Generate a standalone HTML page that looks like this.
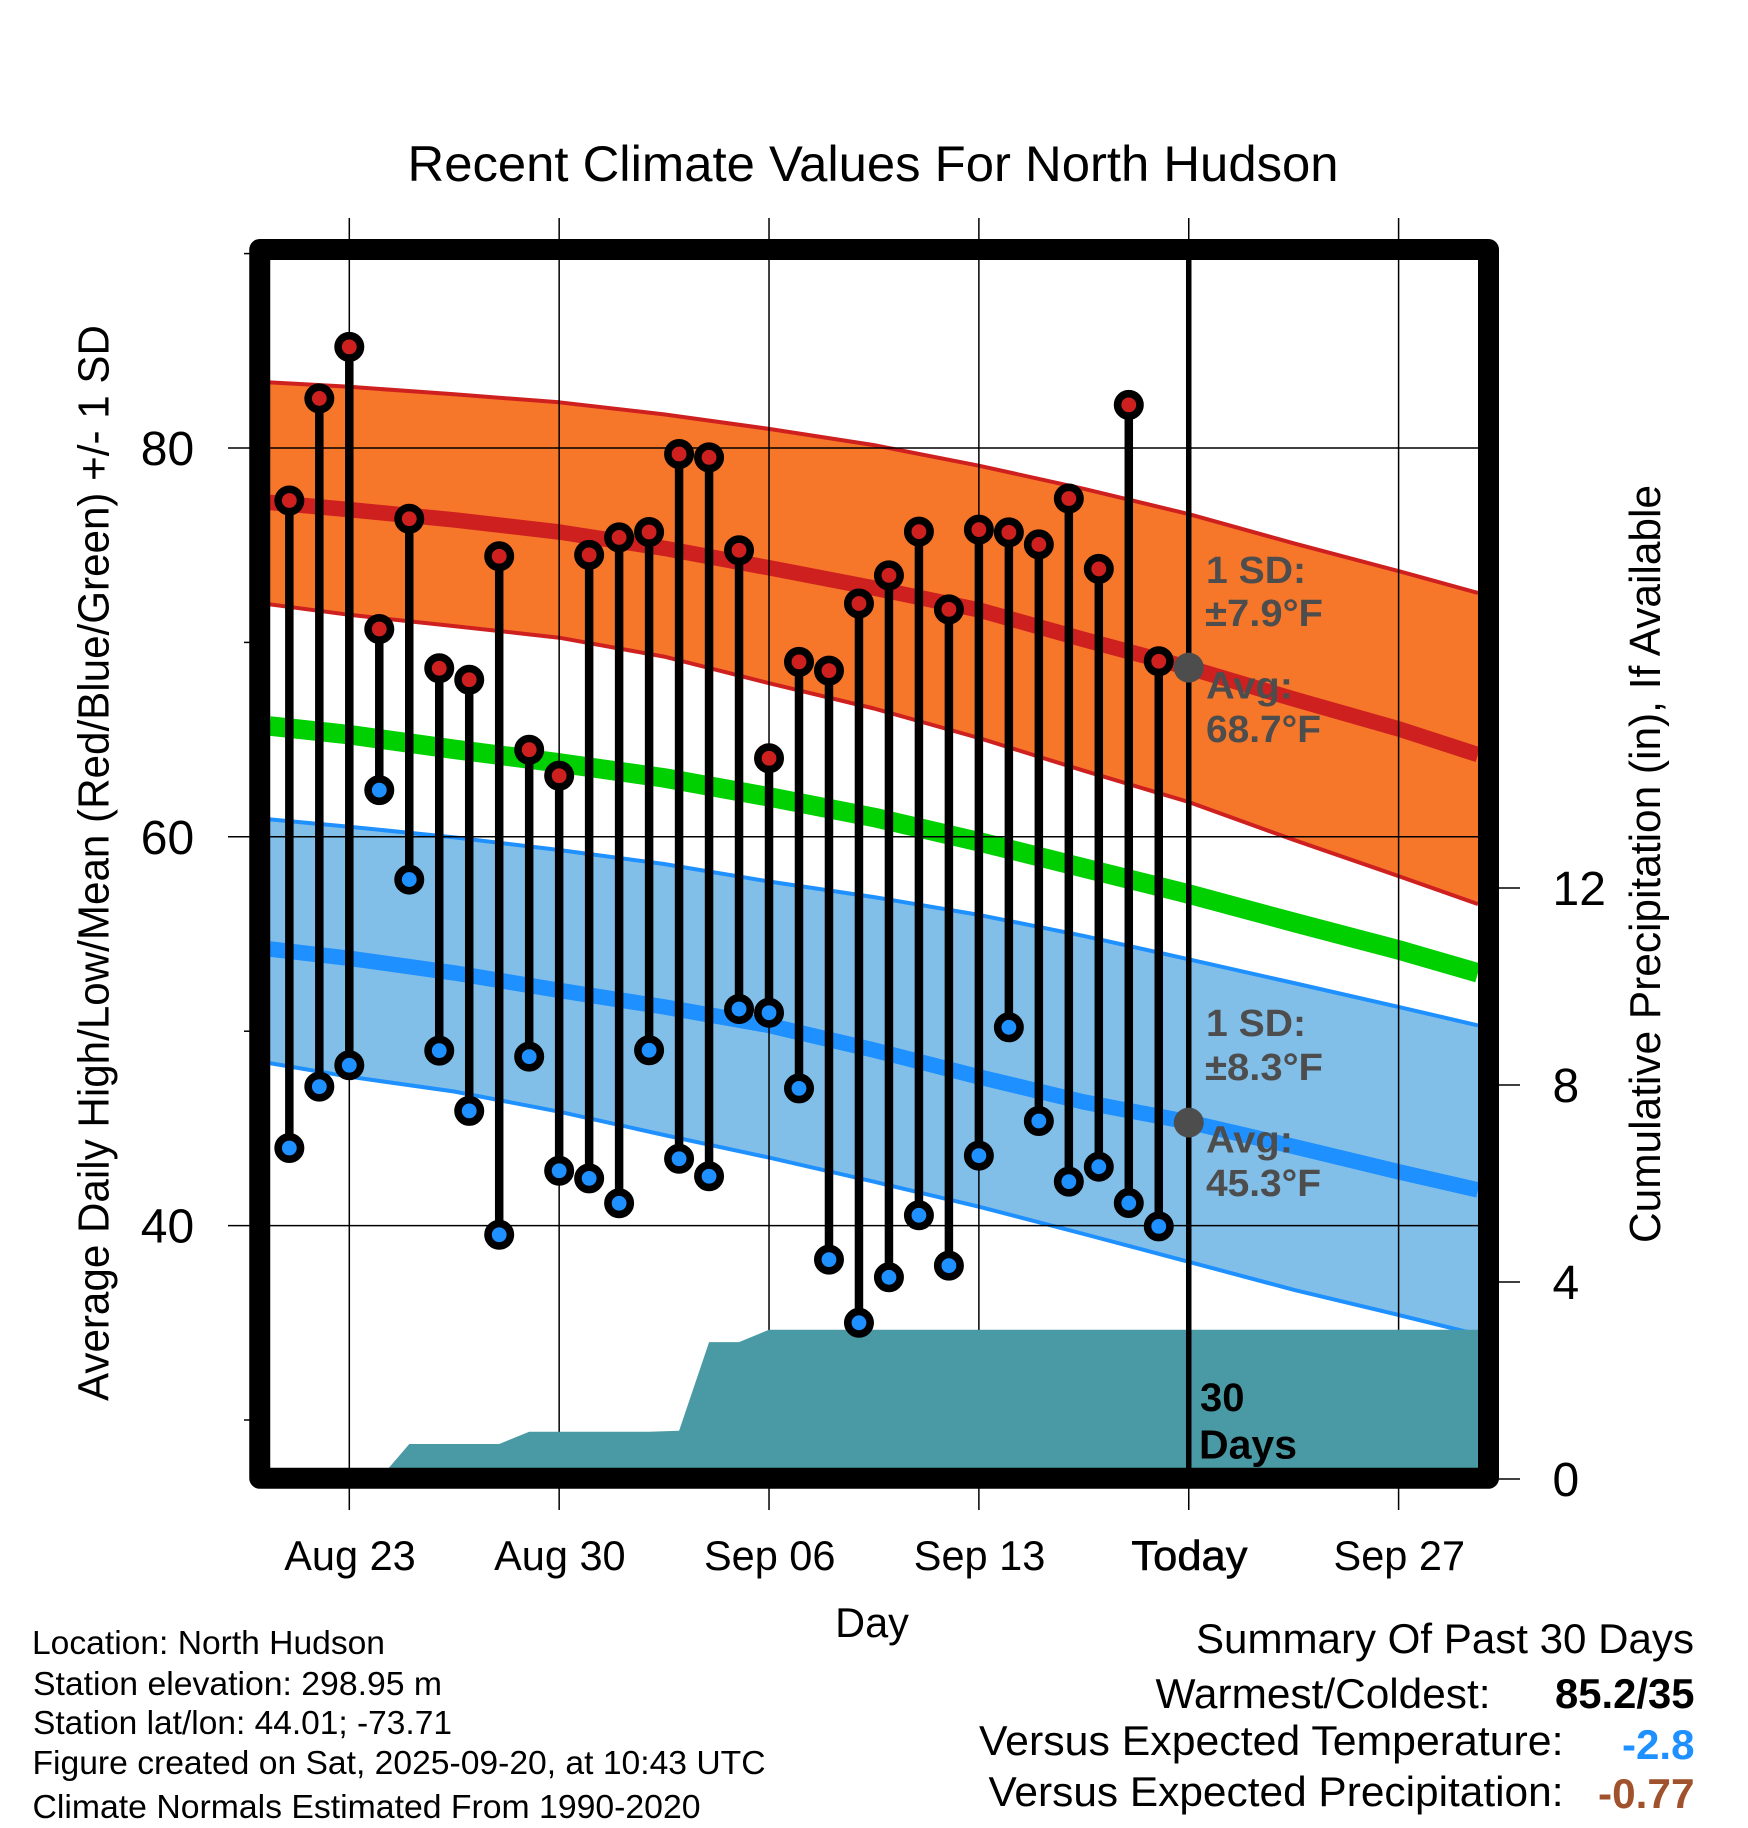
<!DOCTYPE html>
<html lang="en">
<head>
<meta charset="utf-8">
<title>Recent Climate Values For North Hudson</title>
<style>
  html, body { margin: 0; padding: 0; background: #fff; }
  svg { display: block; }
  text { font-family: "Liberation Sans", Arial, sans-serif; fill: #000; }
  .note { font-size: 33.4px; }
  .summary { font-size: 41.5px; }
  .anno { font-size: 38px; font-weight: bold; fill: #4d4d4d; }
</style>
</head>
<body>
<svg id="chart" xmlns="http://www.w3.org/2000/svg" width="1748" height="1828" viewBox="0 0 1748 1828">
  <rect x="0" y="0" width="1748" height="1828" fill="#fff"/>
  <defs>
    <clipPath id="plot-clip"><rect x="270" y="260" width="1208" height="1208"/></clipPath>
  </defs>
  <g id="plot" clip-path="url(#plot-clip)"></g>
  <g id="overlay"></g>
  <g id="axes"></g>

  <text x="873" y="181" font-size="50" text-anchor="middle" textLength="931" lengthAdjust="spacingAndGlyphs">Recent Climate Values For North Hudson</text>
  <text transform="translate(108.5,863) rotate(-90)" font-size="44" text-anchor="middle" textLength="1076" lengthAdjust="spacingAndGlyphs">Average Daily High/Low/Mean (Red/Blue/Green) +/- 1 SD</text>
  <text transform="translate(1660,864) rotate(-90)" font-size="44" text-anchor="middle" textLength="758" lengthAdjust="spacingAndGlyphs">Cumulative Precipitation (in), If Available</text>
  <text x="872" y="1637" font-size="41.5" text-anchor="middle">Day</text>

  <text class="anno" x="1206" y="583" textLength="100" lengthAdjust="spacingAndGlyphs">1 SD:</text>
  <text class="anno" x="1205" y="626" textLength="118" lengthAdjust="spacingAndGlyphs">±7.9°F</text>
  <text class="anno" x="1206" y="698.5" textLength="87" lengthAdjust="spacingAndGlyphs">Avg:</text>
  <text class="anno" x="1206" y="742" textLength="115" lengthAdjust="spacingAndGlyphs">68.7°F</text>
  <text class="anno" x="1206" y="1036" textLength="100" lengthAdjust="spacingAndGlyphs">1 SD:</text>
  <text class="anno" x="1205" y="1080" textLength="118" lengthAdjust="spacingAndGlyphs">±8.3°F</text>
  <text class="anno" x="1206" y="1152.5" textLength="87" lengthAdjust="spacingAndGlyphs">Avg:</text>
  <text class="anno" x="1206" y="1196" textLength="115" lengthAdjust="spacingAndGlyphs">45.3°F</text>
  <text x="1200" y="1411" font-size="40" font-weight="bold">30</text>
  <text x="1199" y="1458.5" font-size="41" font-weight="bold">Days</text>

  <g>
    <text class="note" x="32" y="1654" textLength="353" lengthAdjust="spacingAndGlyphs">Location: North Hudson</text>
    <text class="note" x="33" y="1695" textLength="409" lengthAdjust="spacingAndGlyphs">Station elevation: 298.95 m</text>
    <text class="note" x="33" y="1734" textLength="419" lengthAdjust="spacingAndGlyphs">Station lat/lon: 44.01; -73.71</text>
    <text class="note" x="32.5" y="1774" textLength="733" lengthAdjust="spacingAndGlyphs">Figure created on Sat, 2025-09-20, at 10:43 UTC</text>
    <text class="note" x="32.5" y="1818" textLength="668" lengthAdjust="spacingAndGlyphs">Climate Normals Estimated From 1990-2020</text>
  </g>

  <g>
    <text class="summary" x="1196" y="1653" textLength="498" lengthAdjust="spacingAndGlyphs">Summary Of Past 30 Days</text>
    <text class="summary" x="1155.5" y="1708" textLength="335" lengthAdjust="spacingAndGlyphs">Warmest/Coldest:</text>
    <text class="summary" x="1555" y="1708" font-weight="bold" textLength="139.5" lengthAdjust="spacingAndGlyphs">85.2/35</text>
    <text class="summary" x="979" y="1755" textLength="584.5" lengthAdjust="spacingAndGlyphs">Versus Expected Temperature:</text>
    <text class="summary" x="1622" y="1759" font-weight="bold" style="fill:#1e90ff" textLength="72.5" lengthAdjust="spacingAndGlyphs">-2.8</text>
    <text class="summary" x="988.5" y="1806" textLength="575" lengthAdjust="spacingAndGlyphs">Versus Expected Precipitation:</text>
    <text class="summary" x="1598" y="1808" font-weight="bold" style="fill:#a0522d" textLength="96.5" lengthAdjust="spacingAndGlyphs">-0.77</text>
  </g>
</svg>

<script>
// ---- Observations: Aug 21 to Sep 19 (one value per day) ----
const observedDayOffsets = [-2,-1,0,1,2,3,4,5,6,7,8,9,10,11,12,13,14,15,16,17,18,19,20,21,22,23,24,25,26,27];
const dailyHighs = [77.3,82.55,85.2,70.69,76.36,68.67,68.08,74.43,64.48,63.14,74.5,75.4,75.68,79.69,79.52,74.74,64.04,69.0,68.55,72.0,73.45,75.7,71.7,75.8,75.66,75.04,77.4,73.78,82.22,69.03];
const dailyLows = [43.99,47.15,48.25,62.4,57.8,49.0,45.9,39.53,48.69,42.82,42.43,41.15,49.02,43.44,42.54,51.14,50.95,47.06,38.25,35.0,37.34,40.53,37.94,43.6,50.2,45.38,42.26,43.03,41.16,39.96];
const dailyPrecip = [0,0,0,0,0.71,0.71,0.71,0.71,0.96,0.96,0.96,0.96,0.96,0.98,2.78,2.78,3.03,3.03,3.03,3.03,3.03,3.03,3.03,3.03,3.03,3.03,3.03,3.03,3.03,3.03];

// ---- Climate normals, days counted from Aug 23 ----
const normalDayOffsets = [-2.66,0,3.5,7,10.5,14,17.5,21,24.5,28,31.5,35,37.65];
const highPlusSd = [83.38,83.15,82.76,82.35,81.73,80.98,80.15,79.09,77.9,76.6,75.1,73.67,72.54];
const highMean = [77.2,76.83,76.3,75.68,74.84,73.84,72.8,71.67,70.15,68.7,67.09,65.55,64.23];
const highMinusSd = [71.96,71.42,70.84,70.24,69.27,67.9,66.6,65.08,63.4,61.79,59.84,57.98,56.54];
const overallMean = [65.7,65.25,64.5,63.8,63.03,62.05,61.0,59.75,58.4,57.06,55.6,54.18,53.0];
const lowPlusSd = [60.9,60.52,59.97,59.32,58.6,57.7,56.9,55.98,54.9,53.7,52.48,51.25,50.3];
const lowMean = [54.23,53.75,53.0,52.1,51.25,50.3,49.03,47.65,46.36,45.33,44.07,42.77,41.83];
const lowMinusSd = [48.36,47.66,46.9,45.86,44.66,43.5,42.26,40.97,39.57,38.14,36.7,35.4,34.4];

// ---- Axis ticks ----
const xTickDays = [0,7,14,21,28,35];
const xTickLabels = ['Aug 23','Aug 30','Sep 06','Sep 13','Today','Sep 27'];
const tempMajorTicks = [80,60,40];
const tempMinorTicks = [90,70,50,30];
const precipTicks = [0,4,8,12];
const todayOffset = 28;
const todayHigh = 68.7;
const todayLow = 45.3;
const precipEndOffset = 37.65;

// ---- Axis functions ----
function xDay(d) { return 349.3 + 29.98 * d; }
function yTemp(t) { return 448 + (80 - t) * 19.44; }
function yPrecip(p) { return 1479 - 49.25 * p; }

const NS = 'http://www.w3.org/2000/svg';
const plot = document.getElementById('plot');
const overlay = document.getElementById('overlay');
const axes = document.getElementById('axes');

function make(tag, attrs, parent) {
  const node = document.createElementNS(NS, tag);
  for (const k in attrs) node.setAttribute(k, attrs[k]);
  parent.appendChild(node);
  return node;
}
function seriesPoints(values) {
  return values.map(function (v, i) { return xDay(normalDayOffsets[i]).toFixed(1) + ',' + yTemp(v).toFixed(1); });
}
function band(upper, lower, fill, parent) {
  const pts = seriesPoints(upper).concat(seriesPoints(lower).reverse()).join(' ');
  return make('polygon', { points: pts, fill: fill }, parent);
}
function line(values, color, width, parent) {
  return make('polyline', { points: seriesPoints(values).join(' '), fill: 'none', stroke: color, 'stroke-width': width, 'stroke-linejoin': 'round' }, parent);
}

let el;

// Bands and normals
el = band(highPlusSd, highMinusSd, '#f7772a', plot);


el = band(lowPlusSd, lowMinusSd, '#82bfe8', plot);


el = line(highPlusSd, '#cf2020', 4, plot);


el = line(highMinusSd, '#cf2020', 4, plot);


el = line(lowPlusSd, '#1e90ff', 4, plot);


el = line(lowMinusSd, '#1e90ff', 4, plot);


el = line(highMean, '#cf2020', 15.5, plot);


el = line(overallMean, '#00d000', 19.5, plot);


el = line(lowMean, '#1e90ff', 15.5, plot);



// Grid lines
xTickDays.forEach(function (d) {
  const g = make('line', { x1: xDay(d), x2: xDay(d), y1: 260, y2: 1468, stroke: '#000', 'stroke-width': 1.5 }, plot);
  
  
});
tempMajorTicks.forEach(function (t) {
  const g = make('line', { x1: 270, x2: 1478, y1: yTemp(t), y2: yTemp(t), stroke: '#000', 'stroke-width': 1.5 }, plot);
  
  
});

// Cumulative precipitation area
const precipPts = observedDayOffsets.map(function (d, i) { return xDay(d).toFixed(1) + ',' + yPrecip(dailyPrecip[i]).toFixed(1); });
precipPts.push(xDay(precipEndOffset).toFixed(1) + ',' + yPrecip(dailyPrecip[dailyPrecip.length - 1]).toFixed(1));
precipPts.push(xDay(precipEndOffset).toFixed(1) + ',' + yPrecip(0).toFixed(1));
precipPts.push(xDay(observedDayOffsets[0]).toFixed(1) + ',' + yPrecip(0).toFixed(1));
el = make('polygon', { points: precipPts.join(' '), fill: '#4a9aa5' }, plot);



// Today marker line and average dots
el = make('line', { x1: xDay(todayOffset), x2: xDay(todayOffset), y1: 260, y2: 1468, stroke: '#000', 'stroke-width': 5.5 }, plot);


el = make('circle', { cx: xDay(todayOffset), cy: yTemp(todayHigh), r: 15, fill: '#4d4d4d' }, plot);


el = make('circle', { cx: xDay(todayOffset), cy: yTemp(todayLow), r: 15, fill: '#4d4d4d' }, plot);



// Daily high/low stems and markers
observedDayOffsets.forEach(function (d, i) {
  const x = xDay(d);
  const stem = make('line', { x1: x, x2: x, y1: yTemp(dailyHighs[i]), y2: yTemp(dailyLows[i]), stroke: '#000', 'stroke-width': 8.5 }, overlay);
  
  
});
observedDayOffsets.forEach(function (d, i) {
  const x = xDay(d);
  const lo = make('circle', { cx: x, cy: yTemp(dailyLows[i]), r: 11.2, fill: '#1e90ff', stroke: '#000', 'stroke-width': 7.6 }, overlay);
  
  
  const hi = make('circle', { cx: x, cy: yTemp(dailyHighs[i]), r: 11.2, fill: '#cf2020', stroke: '#000', 'stroke-width': 7.6 }, overlay);
  
  
});

// Frame
el = make('rect', { x: 259.75, y: 249.5, width: 1228.75, height: 1228.75, fill: 'none', stroke: '#000', 'stroke-width': 21, 'stroke-linejoin': 'round' }, axes);



// X ticks and labels
xTickDays.forEach(function (d, i) {
  const x = xDay(d);
  const top = make('line', { x1: x, x2: x, y1: 218, y2: 240, stroke: '#000', 'stroke-width': 1.5 }, axes);
  
  
  const bottom = make('line', { x1: x, x2: x, y1: 1488, y2: 1510, stroke: '#000', 'stroke-width': 1.5 }, axes);
  
  
  const isToday = xTickLabels[i] === 'Today';
  const label = make('text', { x: x + 0.7, y: 1570, 'font-size': 41.5, 'text-anchor': 'middle' }, axes);
  if (isToday) {
    label.setAttribute('stroke', '#000');
    label.setAttribute('stroke-width', '0.6');
    label.setAttribute('textLength', '116');
    label.setAttribute('lengthAdjust', 'spacingAndGlyphs');
  }
  label.textContent = xTickLabels[i];
  
  
});

// Temperature axis
tempMajorTicks.forEach(function (t) {
  const tick = make('line', { x1: 228, x2: 250, y1: yTemp(t), y2: yTemp(t), stroke: '#000', 'stroke-width': 1.5 }, axes);
  
  
  const label = make('text', { x: 167.5, y: yTemp(t) + 17, 'font-size': 48, 'text-anchor': 'middle' }, axes);
  label.textContent = String(t);
  
  
});
tempMinorTicks.forEach(function (t) {
  const tick = make('line', { x1: 244, x2: 250, y1: yTemp(t), y2: yTemp(t), stroke: '#000', 'stroke-width': 1.5 }, axes);
  
  
});

// Precipitation axis
precipTicks.forEach(function (p) {
  const tick = make('line', { x1: 1498, x2: 1520, y1: yPrecip(p), y2: yPrecip(p), stroke: '#000', 'stroke-width': 1.5 }, axes);
  
  
  const label = make('text', { x: 1552.5, y: yPrecip(p) + 17, 'font-size': 48 }, axes);
  label.textContent = String(p);
  
  
});
</script>
</body>
</html>
